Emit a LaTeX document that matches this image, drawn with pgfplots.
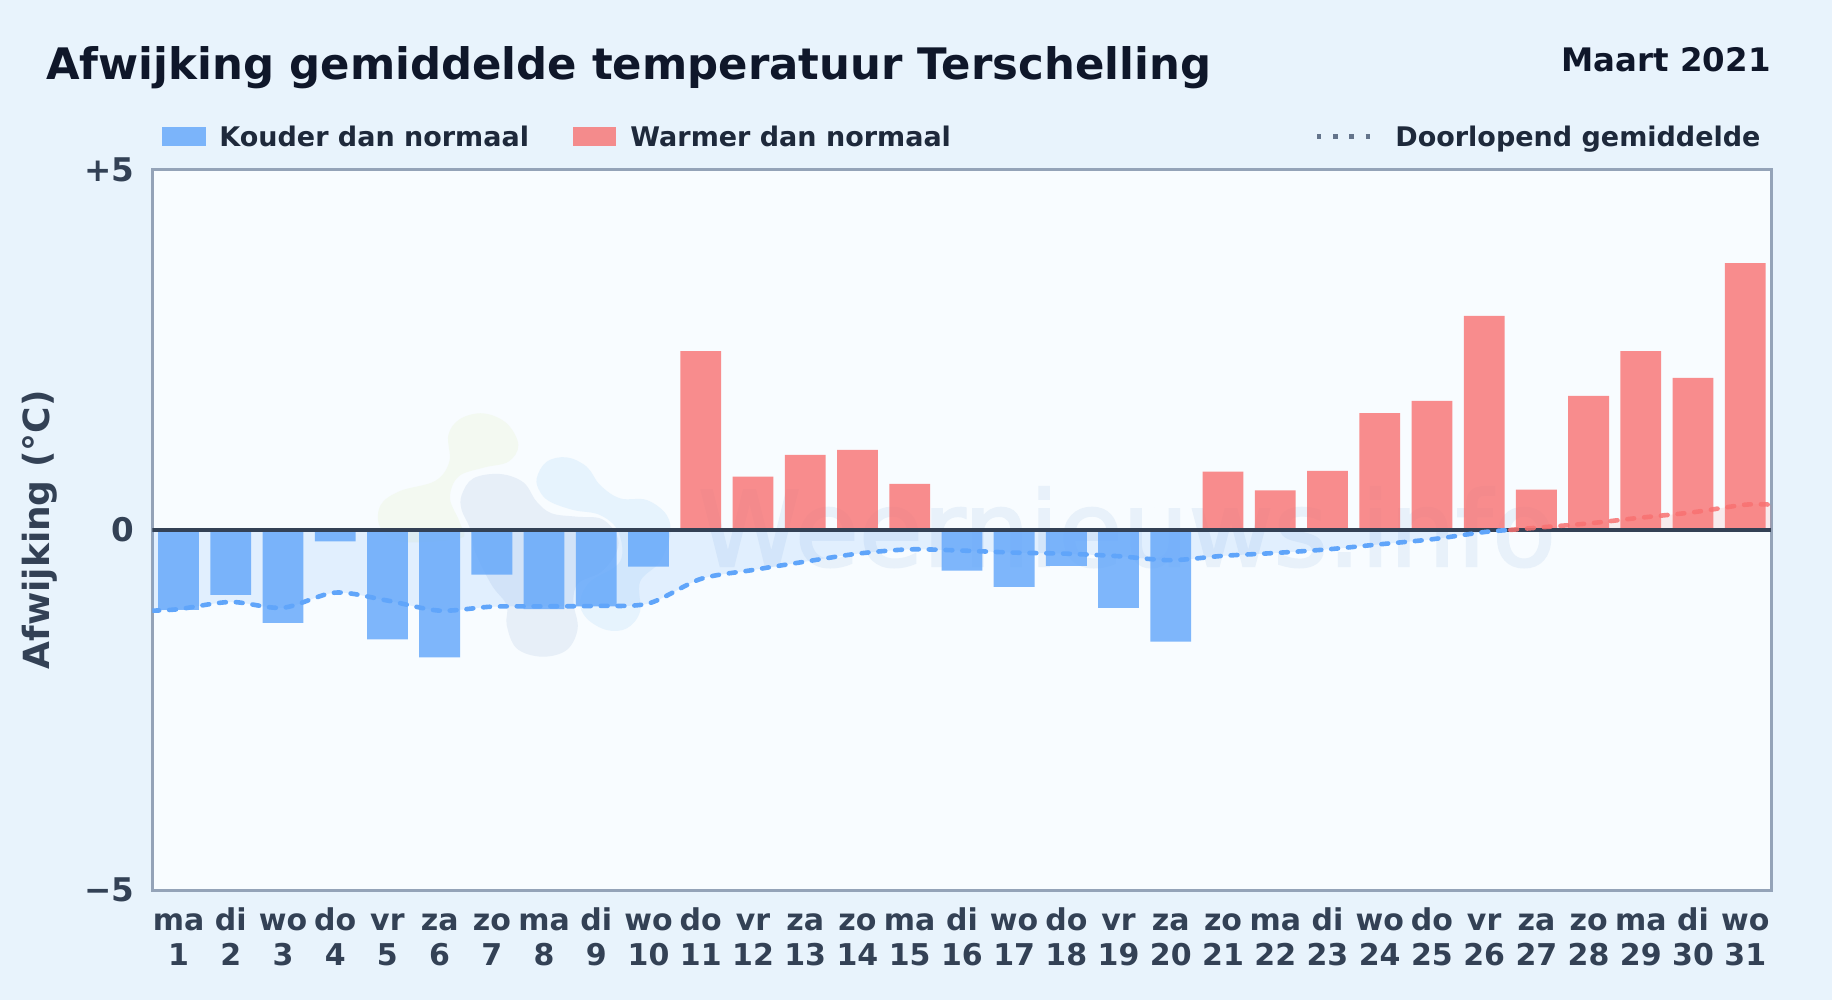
\documentclass[border=0pt]{standalone}
\usepackage{fontspec}
\setmainfont{DejaVu Sans}
\newfontfamily\markfont[FakeBold=2]{DejaVu Sans}
\usepackage{pgfplots}
\usepackage{pgfplotstable}
\pgfplotsset{compat=1.18}

\definecolor{pagebg}{HTML}{E8F3FC}
\definecolor{plotbg}{HTML}{F8FCFF}
\definecolor{coldbar}{HTML}{60A5FA}
\definecolor{warmbar}{HTML}{F87171}
\definecolor{frame}{HTML}{94A3B8}
\definecolor{inkdark}{HTML}{0F172A}
\definecolor{inkmid}{HTML}{1E293B}
\definecolor{inklabel}{HTML}{334155}
\definecolor{dotgrey}{HTML}{64748B}
\definecolor{blobgreen}{HTML}{F3F9F1}
\definecolor{blobgrey}{HTML}{E7EFF8}
\definecolor{blobblue}{HTML}{E6F3FD}
\definecolor{marktext}{HTML}{E8F1FA}

% two-line day label, the rule keeps all first lines on one baseline
\newcommand{\dl}[2]{\rule{0pt}{14pt}#1\\#2}

% daily anomaly
\pgfplotstableread{
x y
1 -1.11
2 -0.90
3 -1.29
4 -0.16
5 -1.52
6 -1.77
7 -0.62
8 -1.10
9 -1.06
10 -0.51
16 -0.565
17 -0.79
18 -0.50
19 -1.08
20 -1.55
}\colddays
\pgfplotstableread{
x y
11 2.48
12 0.74
13 1.04
14 1.11
15 0.64
21 0.81
22 0.55
23 0.82
24 1.62
25 1.79
26 2.97
27 0.56
28 1.86
29 2.48
30 2.11
31 3.70
}\warmdays
% running mean, blue below zero and red above
\pgfplotstableread{
x y
0.5 -1.12
1 -1.10
2 -1.00
3 -1.08
4 -0.87
5 -0.98
6 -1.12
7 -1.065
8 -1.06
9 -1.055
10 -1.02
11 -0.68
12 -0.556
13 -0.44
14 -0.33
15 -0.27
16 -0.287
17 -0.315
18 -0.33
19 -0.365
20 -0.42
21 -0.36
22 -0.32
23 -0.27
24 -0.20
25 -0.13
26 -0.03
26.5 0
}\meanneg
\pgfplotstableread{
x y
26.5 0
27 0.03
28 0.09
29 0.17
30 0.245
31 0.35
31.5 0.35
}\meanpos

\begin{document}
\begin{tikzpicture}
% page, plot area and watermark in pixel coordinates of the reference
\begin{scope}[x=0.5pt,y=-0.5pt]
  \fill[pagebg] (0,0) rectangle (1832,1000);
  \fill[plotbg] (152.4,169.5) rectangle (1771.4,890.3);
  \node[anchor=base west,inner sep=0,text=inkdark] at (46,79.5)
    {\fontsize{21.7}{26}\selectfont\bfseries Afwijking gemiddelde temperatuur Terschelling};
  \node[anchor=base east,inner sep=0,text=inkdark] at (1771,71.5)
    {\fontsize{16.2}{19}\selectfont\bfseries Maart 2021};
  \fill[coldbar,fill opacity=.8] (162,127) rectangle (206,146);
  \fill[warmbar,fill opacity=.8] (573,127) rectangle (615.6,146);
  \node[anchor=base west,inner sep=0,text=inkmid] at (219,146.3)
    {\fontsize{13.5}{16}\selectfont\bfseries Kouder dan normaal};
  \node[anchor=base west,inner sep=0,text=inkmid] at (630,146.3)
    {\fontsize{13.5}{16}\selectfont\bfseries Warmer dan normaal};
  \node[anchor=base west,inner sep=0,text=inkmid] at (1395,146.3)
    {\fontsize{13.5}{16}\selectfont\bfseries Doorlopend gemiddelde};
  \draw[dotgrey,line width=2.2pt,dash pattern=on 2.2pt off 5.9pt] (1317,136.7) -- (1375,136.7);
  \begin{scope}[x=0.16667pt,y=-0.16667pt,shift={(1080,1185)}]
    \fill[blobgreen] plot[smooth cycle,tension=.6] coordinates {
      (265,120) (300,72) (370,55) (440,85) (475,150) (445,200) (370,218) (295,245)
      (270,310) (300,385) (300,430) (120,440) (60,395) (62,330) (120,288) (225,258) (268,200)};
    \fill[blobgrey] plot[smooth cycle,tension=.6] coordinates {
      (305,300) (340,250) (420,237) (490,262) (530,320) (575,355) (650,365) (725,372)
      (770,420) (770,470) (725,530) (655,565) (640,620) (653,700) (620,765) (545,785)
      (470,760) (440,690) (440,630) (395,570) (345,470) (330,400) (305,345)};
    \fill[blobblue] plot[smooth cycle,tension=.6] coordinates {
      (530,250) (560,200) (620,187) (680,215) (720,270) (780,310) (860,315) (920,360)
      (930,420) (900,500) (840,560) (840,650) (800,700) (740,705) (680,670) (660,620)
      (690,560) (780,500) (775,410) (720,360) (640,345) (570,320) (540,290)};
  \end{scope}
  \node[anchor=base,inner sep=0,text=marktext] at (1127,566)
    {\fontsize{52}{60}\selectfont\markfont Weernieuws.info};
\end{scope}

\begin{axis}[
  at={(76.2pt,-445.15pt)}, anchor=south west,
  scale only axis,
  width=809.5pt, height=360.4pt,
  xmin=0.5, xmax=31.5, ymin=-5, ymax=5,
  axis line style={frame,line width=1.5pt},
  tick style={draw=none},
  xtick={1,...,31},
  xticklabels={\dl{ma}{1},\dl{di}{2},\dl{wo}{3},\dl{do}{4},\dl{vr}{5},\dl{za}{6},\dl{zo}{7},\dl{ma}{8},\dl{di}{9},\dl{wo}{10},\dl{do}{11},\dl{vr}{12},\dl{za}{13},\dl{zo}{14},\dl{ma}{15},\dl{di}{16},\dl{wo}{17},\dl{do}{18},\dl{vr}{19},\dl{za}{20},\dl{zo}{21},\dl{ma}{22},\dl{di}{23},\dl{wo}{24},\dl{do}{25},\dl{vr}{26},\dl{za}{27},\dl{zo}{28},\dl{ma}{29},\dl{di}{30},\dl{wo}{31}},
  x tick label style={align=center,text=inklabel,inner sep=0pt,yshift=-6pt,
    font=\fontsize{15}{17.3}\selectfont\bfseries},
  ytick={-5,0,5},
  yticklabels={−5,0,+5},
  y tick label style={text=inklabel,inner sep=0pt,xshift=-9pt,
    font=\fontsize{16.3}{19}\selectfont\bfseries},
  ylabel={Afwijking (°C)},
  ylabel style={text=inklabel,font=\fontsize{18}{21}\selectfont\bfseries,
    at={(axis description cs:0,0.5)},anchor=center,xshift=0pt,yshift=56.5pt},
]
\addplot[fill=coldbar,fill opacity=.15,draw=none,smooth] table {\meanneg} \closedcycle;
\addplot[fill=warmbar,fill opacity=.12,draw=none,smooth] table {\meanpos} \closedcycle;
\addplot[ybar,bar shift=0pt,bar width=20.4pt,fill=coldbar,fill opacity=.8,draw=none] table {\colddays};
\addplot[ybar,bar shift=0pt,bar width=20.4pt,fill=warmbar,fill opacity=.8,draw=none] table {\warmdays};
\addplot[inklabel,line width=1.8pt] coordinates {(0.5,0) (31.5,0)};
\addplot[coldbar,line width=2.3pt,line cap=round,dash pattern=on 3.4pt off 5pt,smooth] table {\meanneg};
\addplot[warmbar,draw opacity=.85,line width=2.3pt,line cap=round,dash pattern=on 3.4pt off 5pt,smooth] table {\meanpos};
\end{axis}
\end{tikzpicture}
\end{document}
